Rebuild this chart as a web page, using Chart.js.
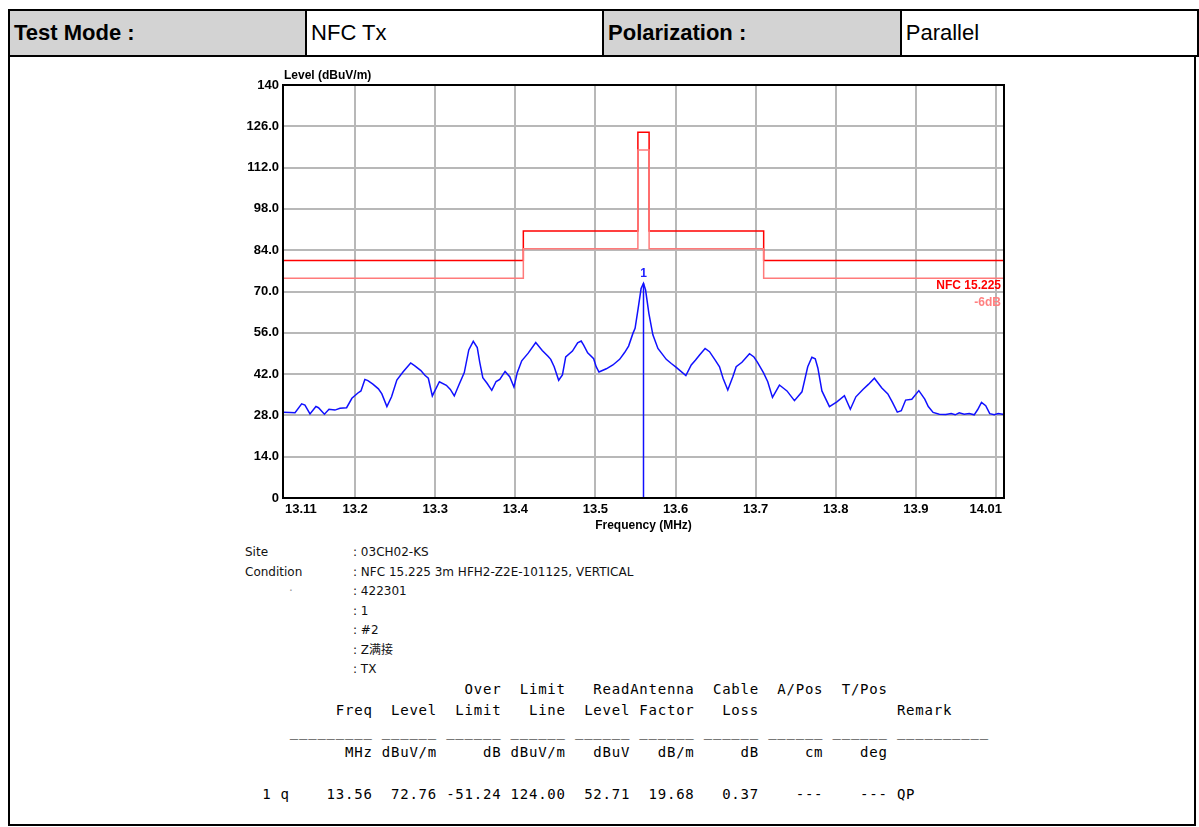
<!DOCTYPE html>
<html>
<head>
<meta charset="utf-8">
<script src="https://cdn.jsdelivr.net/npm/chart.js@4.4.1/dist/chart.umd.min.js"></script>
<style>
  body { margin: 0; background: #fff; width: 1199px; height: 827px; position: relative; overflow: hidden; font-family: "Liberation Sans", Arial, sans-serif; }
  #hdr { position: absolute; left: 8px; top: 9px; border-collapse: collapse; }
  #hdr td { border: 2px solid #000; height: 44px; padding: 0 0 0 4px; font-size: 22px; width: 293px; }
  #hdr td.g { background: #d3d3d3; font-weight: bold; }
  #box { position: absolute; left: 8px; top: 56px; width: 1184px; height: 768px; border: 2px solid #000; border-top: none; }
  #c { position: absolute; left: 200px; top: 60px; }
  .info { position: absolute; font-family: "DejaVu Sans", "Noto Sans CJK SC", sans-serif; font-size: 12px; line-height: 19.5px; color: #111; white-space: pre; }
  #tbl { position: absolute; left: 250px; top: 679px; margin: 0; font-family: "DejaVu Sans Mono", monospace; font-size: 14px; letter-spacing: 0.77px; line-height: 21px; color: #000; }
</style>
</head>
<body>
<table id="hdr"><tr>
  <td class="g">Test Mode :</td><td>NFC Tx</td><td class="g">Polarization :</td><td>Parallel</td>
</tr></table>
<div id="box"></div>
<canvas id="c" width="820" height="480"></canvas>
<div class="info" style="left:245px; top:543px;">Site
Condition
<span style="color:#999; padding-left:44px">·</span></div>
<div class="info" style="left:353px; top:543px;">: 03CH02-KS
: NFC 15.225 3m HFH2-Z2E-101125, VERTICAL
: 422301
: 1
: #2
: Z满接
: TX</div>
<pre id="tbl" style="left:253px">                       Over  Limit   ReadAntenna  Cable  A/Pos  T/Pos
         Freq  Level  Limit   Line  Level Factor   Loss               Remark
    _________ ______ ______ ______ ______ ______ ______ ______ ______ __________
          MHz dBuV/m     dB dBuV/m   dBuV   dB/m     dB     cm    deg

 1 q    13.56  72.76 -51.24 124.00  52.71  19.68   0.37    ---    --- QP</pre>
<script>
// spectrum trace (MHz / dBuV/m)
const traceFreq = [13.1100, 13.1187, 13.1250, 13.1333, 13.1374, 13.1437, 13.1511, 13.1543, 13.1617, 13.1674,
  13.1748, 13.1811, 13.1894, 13.1960, 13.2035, 13.2073, 13.2122, 13.2160, 13.2222, 13.2291,
  13.2334, 13.2397, 13.2455, 13.2521, 13.2600, 13.2694, 13.2746, 13.2821, 13.2871, 13.2914,
  13.2964, 13.3052, 13.3139, 13.3189, 13.3238, 13.3298, 13.3363, 13.3419, 13.3475, 13.3525,
  13.3556, 13.3594, 13.3647, 13.3706, 13.3760, 13.3806, 13.3872, 13.3930, 13.3983, 13.4024,
  13.4080, 13.4161, 13.4255, 13.4336, 13.4411, 13.4442, 13.4485, 13.4541, 13.4588, 13.4629,
  13.4713, 13.4778, 13.4822, 13.4853, 13.4903, 13.4978, 13.5009, 13.5044, 13.5136, 13.5218,
  13.5302, 13.5364, 13.5414, 13.5468, 13.5495, 13.5530, 13.5570, 13.5600, 13.5626, 13.5667,
  13.5717, 13.5780, 13.5884, 13.5947, 13.6009, 13.6129, 13.6196, 13.6250, 13.6300, 13.6369,
  13.6424, 13.6493, 13.6549, 13.6593, 13.6652, 13.6715, 13.6757, 13.6829, 13.6923, 13.6979,
  13.7023, 13.7097, 13.7151, 13.7210, 13.7297, 13.7391, 13.7484, 13.7578, 13.7650, 13.7702,
  13.7744, 13.7777, 13.7827, 13.7921, 13.8014, 13.8108, 13.8182, 13.8251, 13.8339, 13.8407,
  13.8482, 13.8575, 13.8650, 13.8706, 13.8768, 13.8818, 13.8872, 13.8949, 13.9037, 13.9111,
  13.9155, 13.9215, 13.9292, 13.9373, 13.9441, 13.9491, 13.9541, 13.9603, 13.9666, 13.9728,
  13.9772, 13.9819, 13.9872, 13.9922, 13.9978, 14.0028, 14.0084, 14.0100];
const traceLevel = [29.1, 29.0, 28.9, 31.9, 31.5, 28.5, 31.0, 30.6, 28.4, 30.1,
  29.8, 30.4, 30.6, 33.8, 35.6, 36.3, 40.2, 39.8, 38.6, 37.0,
  35.3, 31.0, 34.3, 40.0, 42.8, 45.8, 44.8, 43.2, 41.6, 40.6,
  34.6, 39.4, 38.2, 36.8, 34.6, 38.5, 42.5, 50.2, 53.1, 51.0,
  46.0, 40.8, 38.9, 36.5, 39.5, 40.2, 42.9, 41.1, 37.6, 42.5,
  46.5, 49.1, 52.7, 50.0, 48.0, 47.0, 44.5, 39.9, 41.7, 47.8,
  49.8, 52.6, 53.2, 51.8, 49.2, 47.2, 44.5, 42.7, 43.8, 45.1,
  47.0, 49.3, 51.5, 55.8, 57.5, 63.7, 71.0, 72.76, 70.5, 62.6,
  55.3, 50.7, 47.0, 45.6, 44.3, 41.5, 45.1, 46.8, 48.5, 50.7,
  49.6, 46.8, 44.5, 40.6, 36.6, 41.1, 44.5, 46.0, 48.9, 47.8,
  46.0, 42.5, 39.4, 34.1, 38.3, 36.3, 33.0, 36.0, 44.5, 47.7,
  47.2, 44.0, 36.3, 31.0, 32.6, 34.7, 30.1, 34.3, 36.8, 38.5,
  40.6, 37.3, 35.3, 32.5, 29.1, 29.6, 33.2, 33.5, 36.4, 33.5,
  31.0, 29.0, 28.4, 28.3, 28.6, 28.2, 28.9, 28.4, 28.6, 28.2,
  30.0, 32.4, 31.3, 28.6, 28.2, 28.6, 28.4, 28.5];

// FCC 15.225 limit and the -6dB line
const limitFreq = [13.11, 13.41, 13.553, 13.567, 13.71, 14.01];
const limitLevel = [80.5, 90.5, 124.0, 90.5, 80.5, 80.5];
const limit6Level = [74.5, 84.5, 118.0, 84.5, 74.5, 74.5];

const markerFreq = 13.56;
const markerLevel = 72.76;

const xTicks = [13.11, 13.2, 13.3, 13.4, 13.5, 13.6, 13.7, 13.8, 13.9, 14.0, 14.01];
const xTickLabels = ['13.11', '13.2', '13.3', '13.4', '13.5', '13.6', '13.7', '13.8', '13.9', '', '14.01'];
const yTicks = [0, 14, 28, 42, 56, 70, 84, 98, 112, 126, 140];
const yTickLabels = ['0', '14.0', '28.0', '42.0', '56.0', '70.0', '84.0', '98.0', '112.0', '126.0', '140'];

function pts(xs, ys) { return xs.map((x, i) => ({ x: x, y: ys[i] })); }

const BOLD = 'bold 13px "Liberation Sans", Arial, sans-serif';

const extras = {
  id: 'extras',
  afterDraw(chart) {
    const ctx = chart.ctx, a = chart.chartArea;
    const xs = chart.scales.x, ys = chart.scales.y;
    ctx.save();
    // frame
    ctx.strokeStyle = '#000';
    ctx.lineWidth = 2;
    ctx.strokeRect(a.left, a.top, a.right - a.left, a.bottom - a.top);
    // x tick labels
    ctx.fillStyle = '#000';
    ctx.font = BOLD;
    ctx.textBaseline = 'middle';
    xTicks.forEach((v, i) => {
      const px = xs.getPixelForValue(v);
      ctx.textAlign = i === 0 ? 'left' : (i === xTicks.length - 1 ? 'right' : 'center');
      ctx.fillText(xTickLabels[i], px + (i === 0 ? 2 : (i === xTicks.length - 1 ? -2 : 0)), a.bottom + 11);
    });
    // axis titles
    ctx.font = 'bold 12px "Liberation Sans", Arial, sans-serif';
    ctx.textAlign = 'center';
    ctx.fillText('Frequency (MHz)', (a.left + a.right) / 2, a.bottom + 28);
    ctx.textAlign = 'left';
    ctx.fillText('Level (dBuV/m)', a.left + 1, a.top - 9);
    // limit names
    const yl = ys.getPixelForValue(limit6Level[limit6Level.length - 1]);
    ctx.textAlign = 'right';
    ctx.fillStyle = '#ff0000';
    ctx.fillText('NFC 15.225', a.right - 3, yl + 7);
    ctx.fillStyle = '#ff8080';
    ctx.fillText('-6dB', a.right - 3, yl + 24);
    // marker number
    ctx.fillStyle = '#2020ff';
    ctx.textAlign = 'center';
    ctx.fillText('1', xs.getPixelForValue(markerFreq), ys.getPixelForValue(markerLevel) - 10);
    ctx.restore();
  }
};

new Chart(document.getElementById('c'), {
  type: 'line',
  data: {
    datasets: [
      { data: pts(limitFreq, limit6Level), borderColor: '#ff7a7a', borderWidth: 1.5, stepped: 'before', pointRadius: 0 },
      { data: pts(limitFreq, limitLevel), borderColor: '#ff0000', borderWidth: 1.5, stepped: 'before', pointRadius: 0 },
      { data: [{ x: markerFreq, y: 0 }, { x: markerFreq, y: markerLevel }], borderColor: '#1010ff', borderWidth: 1.5, pointRadius: 0 },
      { data: pts(traceFreq, traceLevel), borderColor: '#1010ff', borderWidth: 1.5, pointRadius: 0, tension: 0 }
    ]
  },
  options: {
    responsive: false,
    animation: false,
    devicePixelRatio: 1,
    layout: { padding: { top: 25, right: 16, left: 0, bottom: 0 } },
    plugins: { legend: { display: false }, tooltip: { enabled: false } },
    scales: {
      x: {
        type: 'linear', min: 13.11, max: 14.01,
        afterBuildTicks: s => { s.ticks = xTicks.map(v => ({ value: v })); },
        afterFit: s => { s.height = 42; },
        ticks: { display: false },
        grid: { color: c => (c.tick && (c.tick.value === 13.11 || c.tick.value === 14.01)) ? 'rgba(0,0,0,0)' : '#b8b8b8', lineWidth: 2, drawTicks: false },
        border: { display: false }
      },
      y: {
        min: 0, max: 140,
        afterBuildTicks: s => { s.ticks = yTicks.map(v => ({ value: v })); },
        afterFit: s => { s.width = 83; },
        ticks: { color: '#000', font: { family: '"Liberation Sans", Arial, sans-serif', size: 13, weight: 'bold' }, padding: 4,
          callback: (v) => yTickLabels[yTicks.indexOf(v)] },
        grid: { color: c => (c.tick && (c.tick.value === 0 || c.tick.value === 140)) ? 'rgba(0,0,0,0)' : '#b8b8b8', lineWidth: 2, drawTicks: false },
        border: { display: false }
      }
    }
  },
  plugins: [extras]
});
</script>
</body>
</html>
